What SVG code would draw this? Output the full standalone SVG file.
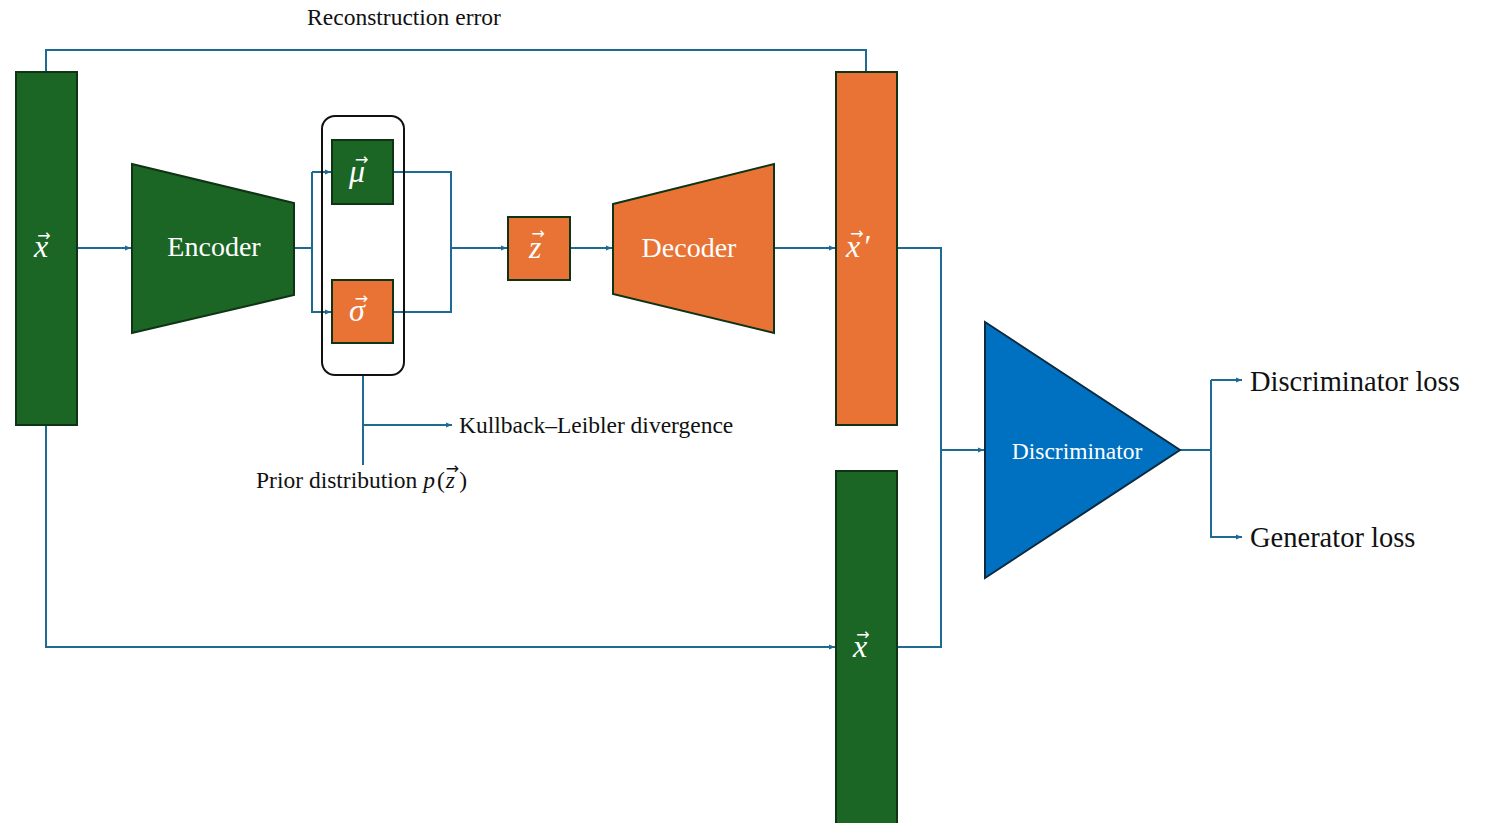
<svg xmlns="http://www.w3.org/2000/svg" width="1489" height="823" viewBox="0 0 1489 823">
<style>
.g{fill:#1b6624;stroke:#0e3415;stroke-width:2}
.o{fill:#e97334;stroke:#0e3415;stroke-width:2}
.b{fill:#0070c0;stroke:#0c2a40;stroke-width:2}
.c{fill:none;stroke:#1f6a92;stroke-width:2}
.t{font-family:"Liberation Serif","DejaVu Serif",serif;fill:#111}
.w{font-family:"Liberation Serif","DejaVu Serif",serif;fill:#fff}
.v{font-family:"Liberation Serif","DejaVu Serif",serif;font-style:italic;fill:#fff;font-size:32px}
.ar{font-family:"DejaVu Sans",sans-serif;font-style:normal;font-size:16px}
</style>
<defs>
<marker id="a" viewBox="0 0 10 10" refX="10" refY="5" markerWidth="6" markerHeight="6" markerUnits="userSpaceOnUse" orient="auto">
<path d="M0,1 L10,5 L0,9 z" fill="#1f6a92"/>
</marker>
</defs>
<rect width="1489" height="823" fill="#fff"/>
<g id="connectors">
<polyline class="c" points="46,72 46,50 866,50 866,72"/>
<line class="c" x1="60" y1="248" x2="131" y2="248" marker-end="url(#a)"/>
<polyline class="c" points="294,248 312,248"/>
<polyline class="c" points="312,172 312,312 331,312" marker-end="url(#a)"/>
<line class="c" x1="312" y1="172" x2="331" y2="172" marker-end="url(#a)"/>
<polyline class="c" points="393,172 451,172 451,312 393,312"/>
<line class="c" x1="451" y1="248" x2="507" y2="248" marker-end="url(#a)"/>
<line class="c" x1="570" y1="248" x2="612" y2="248" marker-end="url(#a)"/>
<line class="c" x1="774" y1="248" x2="835" y2="248" marker-end="url(#a)"/>
<polyline class="c" points="897,248 941,248 941,647 897,647"/>
<line class="c" x1="941" y1="450" x2="984" y2="450" marker-end="url(#a)"/>
<polyline class="c" points="46,425 46,647 835,647" marker-end="url(#a)"/>
<line class="c" x1="363" y1="375" x2="363" y2="465"/>
<line class="c" x1="363" y1="425" x2="452" y2="425" marker-end="url(#a)"/>
<line class="c" x1="1180" y1="450" x2="1211" y2="450"/>
<polyline class="c" points="1211,380 1211,537 1242,537" marker-end="url(#a)"/>
<line class="c" x1="1211" y1="380" x2="1242" y2="380" marker-end="url(#a)"/>
</g>
<g id="labels">
<text class="t" x="404" y="25" font-size="23.5" text-anchor="middle">Reconstruction error</text>
<text class="t" x="459" y="433" font-size="23.5">Kullback–Leibler divergence</text>
<text class="t" x="256" y="488" font-size="23.5">Prior distribution <tspan font-style="italic">p</tspan><tspan dx="2">(</tspan><tspan font-style="italic" dx="1">z</tspan><tspan class="ar" font-size="13" dx="-9" dy="-14">→</tspan><tspan dx="0" dy="14">)</tspan></text>
<text class="t" x="1250" y="391" font-size="28.5">Discriminator loss</text>
<text class="t" x="1250" y="547" font-size="28.5">Generator loss</text>
</g>
<g id="input-x">
<rect class="g" x="16" y="72" width="61" height="353"/>
<text class="v" x="34" y="257">x<tspan class="ar" dx="-11" dy="-16">→</tspan></text>
</g>
<g id="encoder">
<polygon class="g" points="132,164 294,203 294,295 132,333"/>
<text class="w" x="214" y="256" font-size="28" text-anchor="middle">Encoder</text>
</g>
<g id="latent-group">
<rect x="322" y="116" width="82" height="259" rx="13" fill="none" stroke="#111" stroke-width="2"/>
</g>
<g id="mu">
<rect class="g" x="332" y="140" width="61" height="64"/>
<text class="v" x="349" y="182">μ<tspan class="ar" dx="-10" dy="-17">→</tspan></text>
</g>
<g id="sigma">
<rect class="o" x="332" y="280" width="61" height="63"/>
<text class="v" x="349" y="321">σ<tspan class="ar" dx="-10" dy="-17">→</tspan></text>
</g>
<g id="z">
<rect class="o" x="508" y="217" width="62" height="63"/>
<text class="v" x="529" y="258">z<tspan class="ar" dx="-10" dy="-19">→</tspan></text>
</g>
<g id="decoder">
<polygon class="o" points="613,204 774,164 774,333 613,294"/>
<text class="w" x="689" y="257" font-size="28" text-anchor="middle">Decoder</text>
</g>
<g id="output-x-prime">
<rect class="o" x="836" y="72" width="61" height="353"/>
<text class="v" x="846" y="257">x<tspan class="ar" dx="-10" dy="-18">→</tspan><tspan font-style="normal" dx="1" dy="18">′</tspan></text>
</g>
<g id="real-x">
<rect class="g" x="836" y="471" width="61" height="360"/>
<text class="v" x="853" y="657">x<tspan class="ar" dx="-11" dy="-17">→</tspan></text>
</g>
<g id="discriminator">
<polygon class="b" points="985,322 985,578 1180,450"/>
<text class="w" x="1077" y="459" font-size="23.5" text-anchor="middle">Discriminator</text>
</g>
</svg>
